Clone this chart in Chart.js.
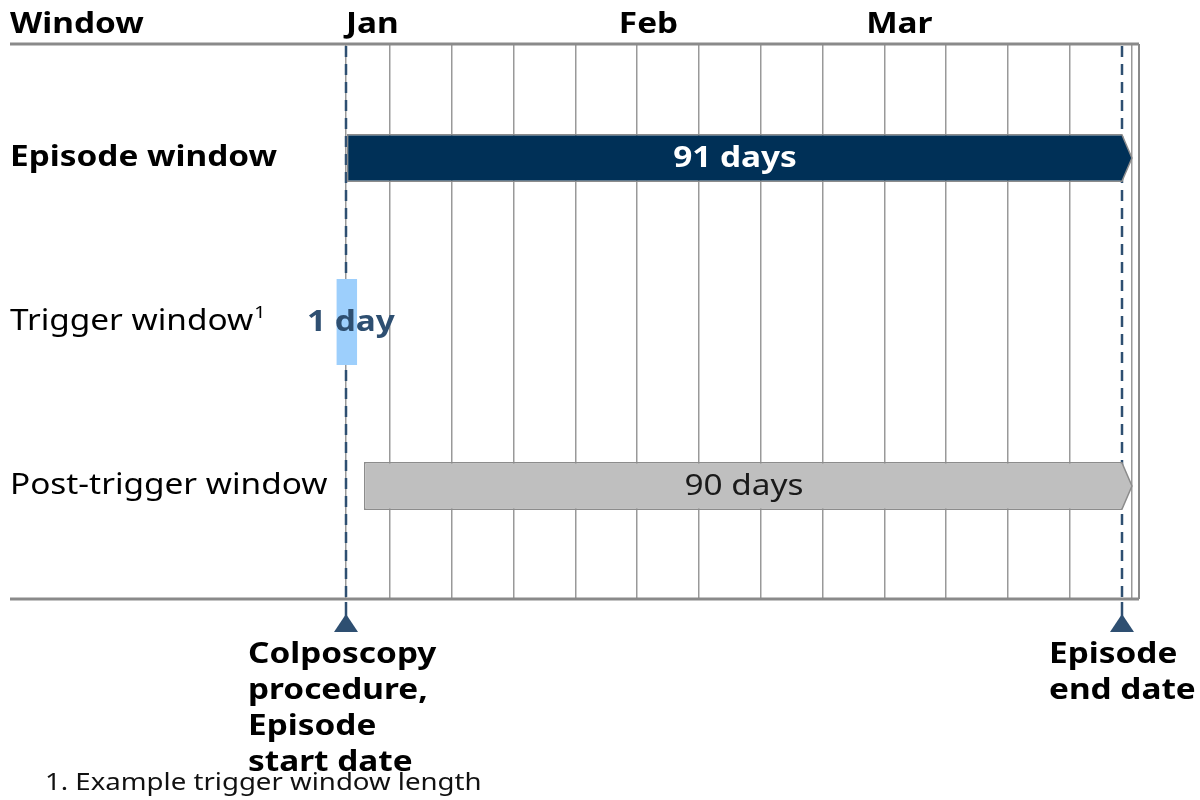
<!DOCTYPE html>
<html>
<head>
<meta charset="utf-8">
<script src="https://cdn.jsdelivr.net/npm/chart.js@4"></script>
<style>
  html, body { margin: 0; padding: 0; background: #ffffff; }
  #wrap { width: 1200px; height: 800px; }
</style>
</head>
<body>
<div id="wrap"><canvas id="timeline" width="1200" height="800"></canvas></div>
<script>
// Windows (rows) and their spans, in days from the colposcopy date
const rows = ['Episode window', 'Trigger window', 'Post-trigger window'];
const rowPos = [1, 2, 3];
const startDays = [0, -1.1, 2.1];
const endDays = [91, 1.3, 91];
const barLabels = ['91 days', '1 day', '90 days'];

// Month labels across the top (start day of each)
const months = ['Jan', 'Feb', 'Mar'];
const monthDays = [0, 32, 61];

// Vertical grid lines (day positions)
const gridDays = [0, 5.16, 12.41, 19.66, 26.9, 34.15, 41.4, 48.64, 55.89, 63.14, 70.38, 77.63, 84.88, 92.12];

// Dated markers below the axis
const markerDays = [0, 91];
const markerLabels = [
    ['Colposcopy', 'procedure,', 'Episode', 'start date'],
    ['Episode', 'end date']
];
const footnote = '1. Example trigger window length';

const FONT = '"Noto Sans", "Open Sans", sans-serif';
const SLATE = '#2e4f71';
const STRETCH = 1.15; // the source type is set wide
const barColors = ['#003057', '#9dcffc', '#bfbfbf'];
const barHeights = [48, 86, 48];
const arrowRows = [true, false, true];
const markerTextOffset = [-98, -73];

function wideText(ctx, text, x, y, align) {
    const w = ctx.measureText(text).width * STRETCH;
    let left = x;
    if (align === 'center') left = x - w / 2;
    ctx.save();
    ctx.translate(left, y);
    ctx.scale(STRETCH, 1);
    ctx.textAlign = 'left';
    ctx.fillText(text, 0, 0);
    ctx.restore();
    return w;
}

const timelinePlugin = {
    id: 'timeline',
    beforeDatasetsDraw(chart) {
        const { ctx, chartArea, scales: { x } } = chart;
        ctx.save();
        ctx.strokeStyle = SLATE;
        ctx.lineWidth = 2.5;
        ctx.setLineDash([11, 7]);
        markerDays.forEach(d => {
            const px = Math.round(x.getPixelForValue(d));
            ctx.beginPath();
            ctx.moveTo(px, chartArea.top + 2);
            ctx.lineTo(px, chartArea.bottom);
            ctx.stroke();
        });
        ctx.restore();
    },
    afterDatasetsDraw(chart) {
        const { ctx } = chart;
        // chevron tips on the long windows
        chart.data.datasets.forEach((ds, i) => {
            if (!arrowRows[i]) return;
            const el = chart.getDatasetMeta(i).data[0];
            const { x, y, height } = el.getProps(['x', 'y', 'height'], true);
            const tip = 10;
            const top = y - height / 2 + 0.75, bot = y + height / 2 - 0.75;
            ctx.save();
            ctx.beginPath();
            ctx.moveTo(x - 1, top);
            ctx.lineTo(x, top);
            ctx.lineTo(x + tip, y);
            ctx.lineTo(x, bot);
            ctx.lineTo(x - 1, bot);
            ctx.closePath();
            ctx.fillStyle = ds.backgroundColor;
            ctx.fill();
            ctx.beginPath();
            ctx.moveTo(x - 1, top);
            ctx.lineTo(x, top);
            ctx.lineTo(x + tip, y);
            ctx.lineTo(x, bot);
            ctx.lineTo(x - 1, bot);
            ctx.strokeStyle = '#8c8c8c';
            ctx.lineWidth = 1.5;
            ctx.stroke();
            ctx.restore();
        });
    },
    afterDraw(chart) {
        const { ctx, chartArea, scales: { x, y } } = chart;
        ctx.save();

        // frame: top and bottom rules, right edge
        ctx.strokeStyle = '#8a8a8a';
        ctx.lineWidth = 3;
        ctx.beginPath();
        ctx.moveTo(chartArea.left, chartArea.top);
        ctx.lineTo(chartArea.right, chartArea.top);
        ctx.moveTo(chartArea.left, chartArea.bottom);
        ctx.lineTo(chartArea.right, chartArea.bottom);
        ctx.stroke();
        ctx.lineWidth = 2;
        ctx.beginPath();
        ctx.moveTo(chartArea.right, chartArea.top);
        ctx.lineTo(chartArea.right, chartArea.bottom);
        ctx.stroke();

        // header
        ctx.fillStyle = '#000';
        ctx.textBaseline = 'alphabetic';
        ctx.font = 'bold 29px ' + FONT;
        wideText(ctx, 'Window', 10, 33, 'left');
        months.forEach((m, i) => wideText(ctx, m, x.getPixelForValue(monthDays[i]), 33, 'left'));

        // row labels
        ctx.textBaseline = 'middle';
        rows.forEach((r, i) => {
            const py = y.getPixelForValue(rowPos[i]);
            ctx.font = (i === 0 ? 'bold ' : '') + '29px ' + FONT;
            ctx.fillStyle = '#000';
            const w = wideText(ctx, r, 10, py, 'left');
            if (i === 1) {
                ctx.font = '17px ' + FONT;
                wideText(ctx, '1', 10 + w + 1, py - 9, 'left');
            }
        });

        // bar labels
        rows.forEach((r, i) => {
            const py = y.getPixelForValue(rowPos[i]);
            const x0 = x.getPixelForValue(startDays[i]);
            const x1 = x.getPixelForValue(endDays[i]);
            if (i === 0) {
                ctx.font = 'bold 29px ' + FONT;
                ctx.fillStyle = '#ffffff';
            } else if (i === 1) {
                ctx.font = 'bold 29px ' + FONT;
                ctx.fillStyle = SLATE;
            } else {
                ctx.font = '29px ' + FONT;
                ctx.fillStyle = '#1a1a1a';
            }
            wideText(ctx, barLabels[i], (x0 + x1) / 2 + (i === 1 ? 4 : 1), py + 1, 'center');
        });

        // date markers under the axis
        markerDays.forEach((d, i) => {
            const px = Math.round(x.getPixelForValue(d));
            ctx.strokeStyle = SLATE;
            ctx.lineWidth = 2.5;
            ctx.setLineDash([]);
            ctx.beginPath();
            ctx.moveTo(px, chartArea.bottom + 3);
            ctx.lineTo(px, chartArea.bottom + 18);
            ctx.stroke();
            ctx.fillStyle = SLATE;
            ctx.beginPath();
            ctx.moveTo(px, chartArea.bottom + 15);
            ctx.lineTo(px + 12, chartArea.bottom + 33);
            ctx.lineTo(px - 12, chartArea.bottom + 33);
            ctx.closePath();
            ctx.fill();

            ctx.fillStyle = '#000';
            ctx.font = 'bold 29px ' + FONT;
            ctx.textBaseline = 'alphabetic';
            markerLabels[i].forEach((line, j) => {
                wideText(ctx, line, px + markerTextOffset[i], chartArea.bottom + 64 + j * 36, 'left');
            });
        });

        // footnote
        ctx.font = '24px ' + FONT;
        ctx.fillStyle = '#111';
        wideText(ctx, footnote, 45, 790, 'left');
        ctx.restore();
    }
};

const ctx = document.getElementById('timeline').getContext('2d');
new Chart(ctx, {
    type: 'bar',
    data: {
        datasets: rows.map((r, i) => ({
            label: r,
            data: [{ x: [startDays[i], endDays[i]], y: rowPos[i] }],
            backgroundColor: barColors[i],
            borderColor: '#8c8c8c',
            borderWidth: arrowRows[i] ? { top: 1.5, bottom: 1.5, left: 1.5, right: 0 } : 0,
            borderSkipped: false,
            maxBarThickness: barHeights[i],
            grouped: false
        }))
    },
    plugins: [timelinePlugin],
    options: {
        indexAxis: 'y',
        responsive: false,
        animation: false,
        layout: { padding: { left: 10, right: 61, top: 44, bottom: 201 } },
        plugins: { legend: { display: false }, tooltip: { enabled: false } },
        scales: {
            x: {
                type: 'linear',
                min: -39.4,
                max: 93.0,
                border: { display: false },
                ticks: { display: false, padding: 0 },
                grid: { color: '#999999', lineWidth: 1.5, drawTicks: false },
                afterBuildTicks: scale => { scale.ticks = gridDays.map(v => ({ value: v })); }
            },
            y: {
                type: 'linear',
                min: 0.305,
                max: 3.689,
                reverse: true,
                offset: false,
                display: false,
                afterBuildTicks: scale => { scale.ticks = rowPos.map(v => ({ value: v })); }
            }
        }
    }
});
</script>
</body>
</html>
